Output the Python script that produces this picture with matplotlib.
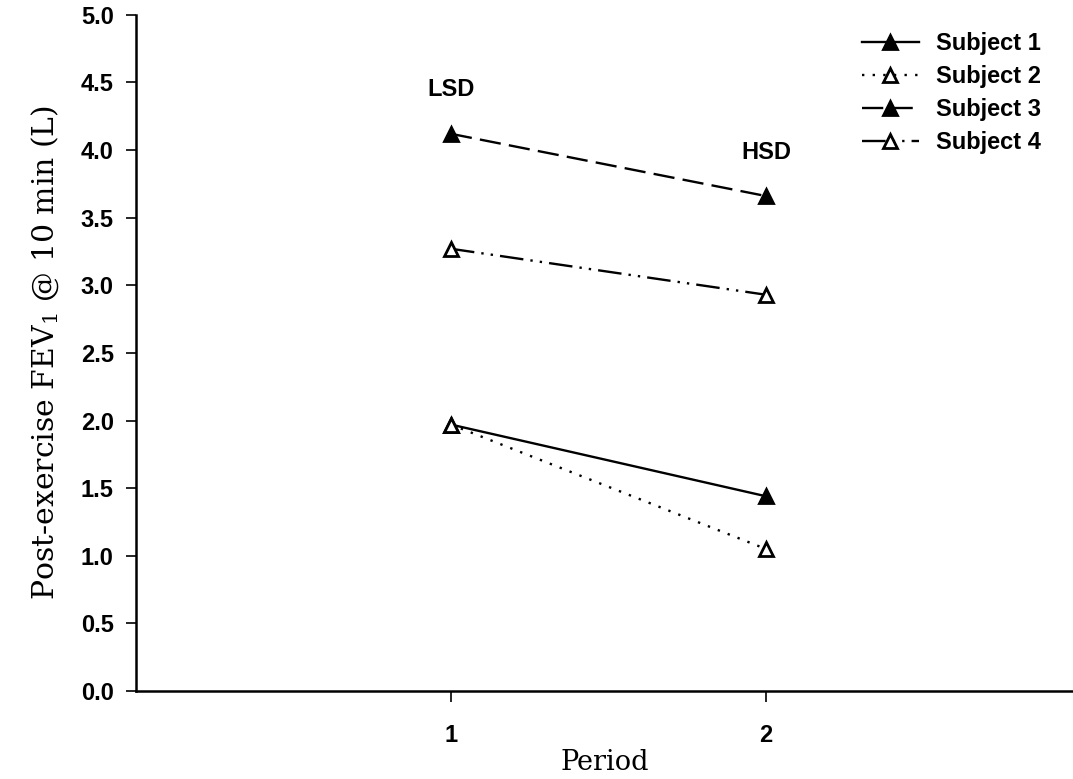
import matplotlib
matplotlib.use("Agg")
import matplotlib.pyplot as plt

periods = [1, 2]
subject1 = [1.97, 1.44]
subject2 = [1.97, 1.05]
subject3 = [4.12, 3.66]
subject4 = [3.27, 2.93]
labels = ["Subject 1", "Subject 2", "Subject 3", "Subject 4"]
yticks = [0.0, 0.5, 1.0, 1.5, 2.0, 2.5, 3.0, 3.5, 4.0, 4.5, 5.0]

plt.rcParams["mathtext.fontset"] = "dejavuserif"

fig = plt.figure(figsize=(10.73, 7.79), dpi=100)
ax = fig.add_axes([0.1267, 0.113, 0.8733, 0.868])

sans = "Liberation Sans"
serif = "DejaVu Serif"
fs = 17

common = dict(color="black", lw=1.7, markersize=10, markeredgewidth=2.0)
ax.plot(periods, subject1, linestyle="-", marker="^", markerfacecolor="black", label=labels[0], **common)
ax.plot(periods, subject2, linestyle=(0, (1, 3.5)), marker="^", markerfacecolor="white", label=labels[1], **common)
ax.plot(periods, subject3, linestyle=(0, (9, 3.5)), marker="^", markerfacecolor="black", label=labels[2], **common)
ax.plot(periods, subject4, linestyle=(0, (10, 3, 1, 3, 1, 3)), marker="^", markerfacecolor="white", label=labels[3], **common)

ax.set_xlim(0, 2.975)
ax.set_ylim(0, 5.0)
ax.set_xticks(periods)
ax.set_yticks(yticks)
ax.set_yticklabels([f"{v:.1f}" for v in yticks], fontfamily=sans, fontsize=fs, fontweight="bold")
ax.set_xticklabels([str(p) for p in periods], fontfamily=sans, fontsize=fs, fontweight="bold")
ax.tick_params(axis="y", direction="out", length=7, width=1.2, pad=9)
ax.tick_params(axis="x", direction="out", length=8, width=1.2, pad=16)
for s in ["top", "right"]:
    ax.spines[s].set_visible(False)
for s in ["left", "bottom"]:
    ax.spines[s].set_linewidth(1.8)

ax.set_xlabel("Period", fontfamily=serif, fontsize=19.5, labelpad=1)
ax.set_ylabel("Post-exercise FEV$_1$ @ 10 min (L)", fontfamily=serif, fontsize=21.5, labelpad=14)

ax.text(1, 4.445, "LSD", ha="center", va="center", fontfamily=sans, fontsize=fs, fontweight="bold")
ax.text(2, 3.98, "HSD", ha="center", va="center", fontfamily=sans, fontsize=fs, fontweight="bold")

leg = ax.legend(loc="upper left", bbox_to_anchor=(862 / 1073, 1 - 32 / 779),
                bbox_transform=fig.transFigure, frameon=False,
                prop={"family": sans, "size": fs, "weight": "bold"}, handlelength=2.4,
                handletextpad=0.75, labelspacing=0.43, borderaxespad=0, borderpad=0)

fig.savefig("out.png", dpi=100)
